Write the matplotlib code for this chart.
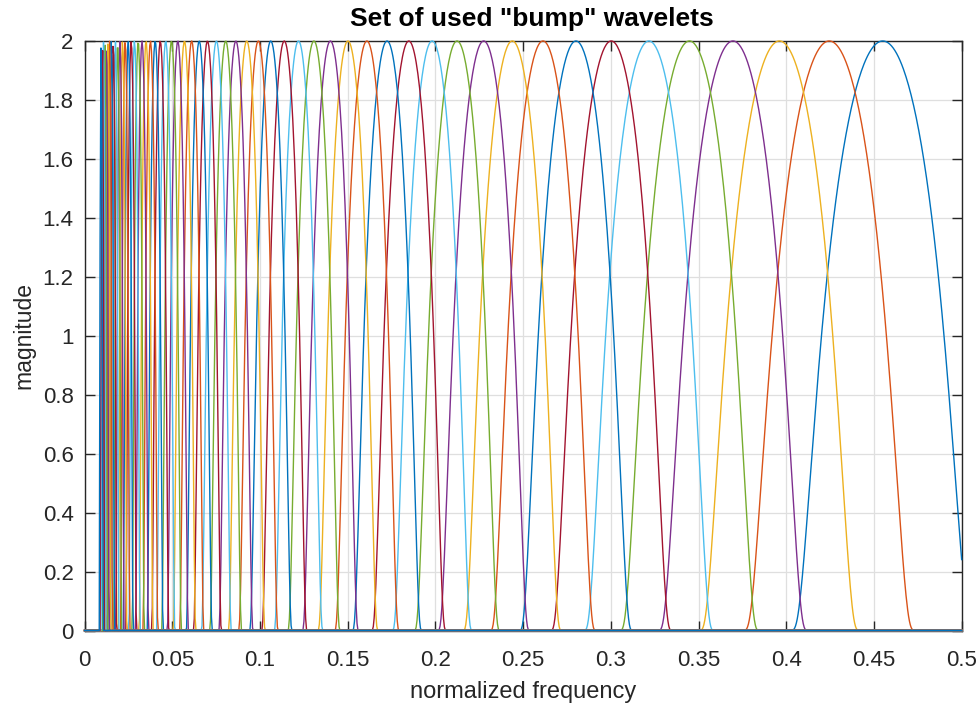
import numpy as np
import matplotlib
matplotlib.use("Agg")
import matplotlib.pyplot as plt

# Center (peak) frequencies of the bump filter bank, highest first
center_freqs = [
    0.4550, 0.4245, 0.3961, 0.3696, 0.3448, 0.3217, 0.3002, 0.2801, 0.2613, 0.2438,
    0.2275, 0.2123, 0.1981, 0.1848, 0.1724, 0.1609, 0.1501, 0.1401, 0.1307, 0.1219,
    0.1138, 0.1061, 0.0990, 0.0924, 0.0862, 0.0804, 0.0751, 0.0700, 0.0653, 0.0610,
    0.0569, 0.0531, 0.0495, 0.0462, 0.0431, 0.0402, 0.0375, 0.0350, 0.0327, 0.0305,
    0.0284, 0.0265, 0.0248, 0.0231, 0.0216, 0.0201, 0.0188, 0.0175, 0.0163, 0.0152,
    0.0142, 0.0133, 0.0124, 0.0116, 0.0108, 0.0101, 0.0094,
]

# Bump wavelet parameters and peak magnitude
bump_mu = 5.0
bump_sigma = 0.6
peak_gain = 2.0
n_fft = 2048

x_ticks = [0, 0.05, 0.1, 0.15, 0.2, 0.25, 0.3, 0.35, 0.4, 0.45, 0.5]
x_tick_labels = ["0", "0.05", "0.1", "0.15", "0.2", "0.25", "0.3", "0.35", "0.4", "0.45", "0.5"]
y_ticks = [0, 0.2, 0.4, 0.6, 0.8, 1.0, 1.2, 1.4, 1.6, 1.8, 2.0]
y_tick_labels = ["0", "0.2", "0.4", "0.6", "0.8", "1", "1.2", "1.4", "1.6", "1.8", "2"]

colors = ["#0072BD", "#D95319", "#EDB120", "#7E2F8E", "#77AC30", "#4DBEEE", "#A2142F"]

plt.rcParams["font.family"] = ["Liberation Sans", "DejaVu Sans"]

freq = np.arange(n_fft // 2 + 1) / n_fft


def bump(f, fc):
    u = (f / fc - 1.0) * bump_mu / bump_sigma
    out = np.zeros_like(f)
    inside = np.abs(u) < 1
    out[inside] = peak_gain * np.exp(1.0 - 1.0 / (1.0 - u[inside] ** 2))
    return out


fig = plt.figure(figsize=(9.8, 7.04), dpi=100)
ax = fig.add_axes([0.0864, 0.1044, 0.8949, 0.8374])

for i, fc in enumerate(center_freqs):
    ax.plot(freq, bump(freq, fc), color=colors[i % len(colors)], linewidth=1.0,
            clip_on=False, zorder=3)

ax.set_xlim(0, 0.5)
ax.set_ylim(0, 2)
ax.set_xticks(x_ticks)
ax.set_xticklabels(x_tick_labels)
ax.set_yticks(y_ticks)
ax.set_yticklabels(y_tick_labels)

dark = "#262626"
ax.grid(True, color="#dfdfdf", linewidth=0.9)
ax.set_axisbelow(True)
for sp in ax.spines.values():
    sp.set_color(dark)
    sp.set_linewidth(1.0)
    sp.set_zorder(2)
ax.tick_params(direction="in", length=7, width=1.0, color=dark, labelcolor=dark,
               labelsize=16, top=True, right=True)
ax.tick_params(axis="x", pad=14)
ax.tick_params(axis="y", pad=8)

ax.set_xlabel("normalized frequency", fontsize=17, color=dark, labelpad=7)
ax.set_ylabel("magnitude", fontsize=16.5, color=dark, labelpad=5)
title = ax.set_title('Set of used "bump" wavelets', fontsize=19, fontweight="bold",
                     color="black", pad=11)
title.set_x(0.51)

fig.savefig("out.png", dpi=100, facecolor="white")
